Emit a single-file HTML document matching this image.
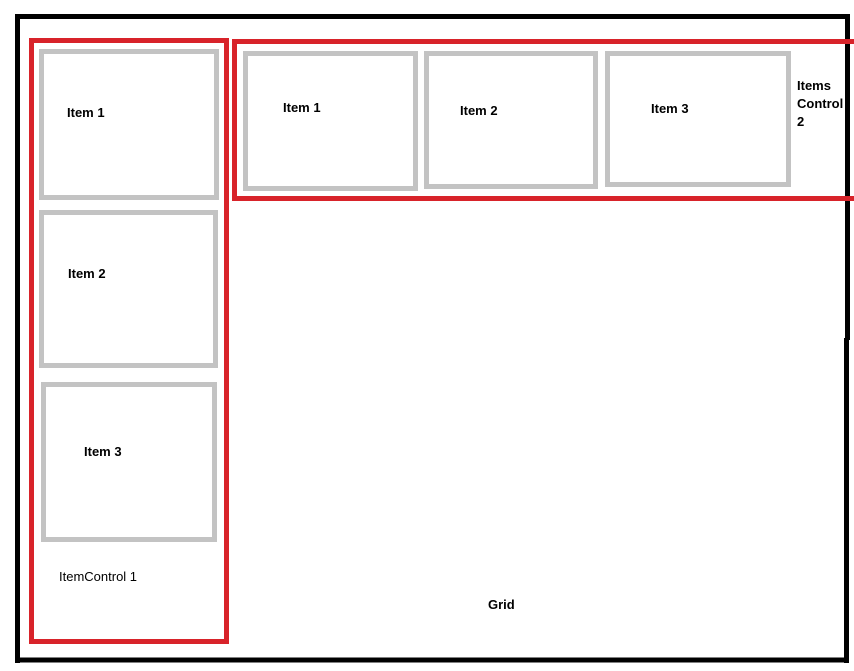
<!DOCTYPE html>
<html><head><style>body{margin:0;background:#fff}svg{display:block}text{font-family:"Liberation Sans",sans-serif;font-size:13px;fill:#000}</style></head><body>
<svg width="854" height="671" xmlns="http://www.w3.org/2000/svg">
<rect width="854" height="671" fill="#fff"/>
<g fill="none" stroke="#000" stroke-width="5">
<line x1="17" y1="16.5" x2="850" y2="16.5"/>
<line x1="17.5" y1="14" x2="17.5" y2="663"/>
<line x1="15" y1="660" x2="849" y2="660"/>
<line x1="847.5" y1="14" x2="847.5" y2="340"/>
<line x1="846.5" y1="338" x2="846.5" y2="663"/>
</g>
<g fill="none" stroke="#d8232a" stroke-width="5">
<rect x="31.5" y="40.5" width="195" height="601"/>
<line x1="232" y1="41.5" x2="854" y2="41.5"/>
<line x1="232" y1="198.5" x2="854" y2="198.5"/>
<line x1="234.5" y1="39" x2="234.5" y2="201"/>
</g>
<g fill="none" stroke="#c3c3c3" stroke-width="5">
<rect x="41.5" y="51.5" width="175" height="146"/>
<rect x="41.5" y="212.5" width="174" height="153"/>
<rect x="43.5" y="384.5" width="171" height="155"/>
<rect x="245.5" y="53.5" width="170" height="135"/>
<rect x="426.5" y="53.5" width="169" height="133"/>
<rect x="607.5" y="53.5" width="181" height="131"/>
</g>
<g font-weight="bold">
<text x="67" y="117">Item 1</text>
<text x="68" y="278">Item 2</text>
<text x="84" y="456">Item 3</text>
<text x="283" y="112">Item 1</text>
<text x="460" y="115">Item 2</text>
<text x="651" y="113">Item 3</text>
<text x="797" y="90">Items</text>
<text x="797" y="108">Control</text>
<text x="797" y="126">2</text>
<text x="488" y="609">Grid</text>
</g>
<text x="59" y="581">ItemControl 1</text>
</svg>
</body></html>
